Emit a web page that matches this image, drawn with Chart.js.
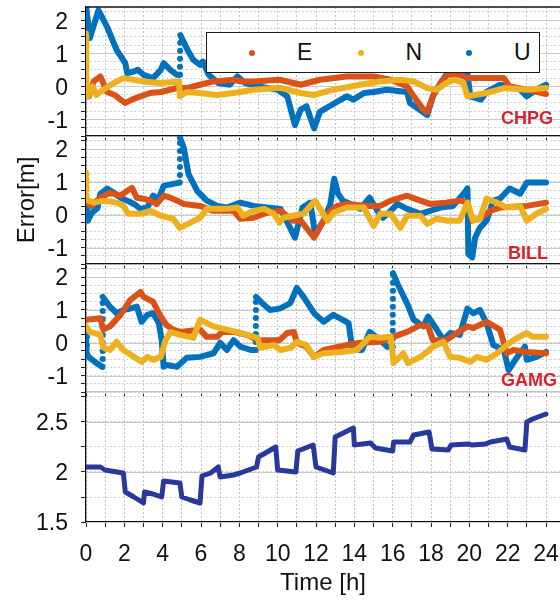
<!DOCTYPE html>
<html>
<head>
<meta charset="utf-8">
<script src="https://cdn.jsdelivr.net/npm/chart.js@4.4.1/dist/chart.umd.min.js"></script>
<style>
  body { margin: 0; background: #fff; width: 560px; height: 603px; overflow: hidden; position: relative;
         font-family: "Liberation Sans", Arial, Helvetica, sans-serif; }
  canvas { position: absolute; left: 0; }
  #legend { position: absolute; left: 206px; top: 32px; width: 334px; height: 41px; box-sizing: border-box;
            border: 1.5px solid #1a1a1a; background: #fff; }
  #legend .item { position: absolute; top: 0; height: 100%; }
  #legend .dot { position: absolute; left: -3px; top: 50%; margin-top: -3px; width: 6px; height: 6px; border-radius: 50%; }
  #legend .txt { position: absolute; left: 45px; top: 0; line-height: 38px; font-size: 23px; color: #111; }
</style>
</head>
<body>
<canvas id="p1" width="560" height="144" style="top:0px"></canvas>
<canvas id="p2" width="560" height="144" style="top:128px"></canvas>
<canvas id="p3" width="560" height="144" style="top:256px"></canvas>
<canvas id="p4" width="560" height="219" style="top:384px"></canvas>
<div id="legend"></div>
<script>
Chart.defaults.font.family = '"Liberation Sans", Arial, Helvetica, sans-serif';
Chart.defaults.color = '#111';

// axes
const X_MAX = 24.73;
const HOUR_LABELS = [0, 2, 4, 6, 8, 10, 12, 14, 16, 18, 20, 22, 24];
const ERR_MIN = -1.5, ERR_MAX = 2.4;
const ERR_LABELS = [-1, 0, 1, 2];
const LOW_MIN = 1.5, LOW_MAX = 2.8;
const LOW_LABELS = [1.5, 2, 2.5];

const COMPONENTS = ['E', 'N', 'U'];
const COMPONENT_COLORS = ['#d95319', '#edb120', '#0072bd'];
const COMPONENT_ORDER = [2, 1, 3];   // U underneath, N on top
const STATIONS = ['CHPG', 'BILL', 'GAMG'];

// [hour, error m]
const chpgE = [[0,0],[0.15,-0.3],[0.4,0.15],[0.75,0.3],[0.9,0.1],[1.1,-0.17],[1.5,-0.26],[1.8,-0.4],[2.05,-0.5],
  [2.4,-0.4],[2.85,-0.3],[3.35,-0.2],[3.9,-0.17],[4.75,-0.05],[5.25,-0.05],[5.95,0.05],[6.65,0.15],[7.7,0.2],
  [8.05,0.15],[8.75,0.15],[10.1,0.2],[11.2,0.05],[12.2,0.2],[13.6,0.3],[15,0.3],[15.9,0.2],[16.75,0],[17.1,-0.3],
  [17.6,-0.7],[17.8,-0.77],[18.1,-0.3],[18.5,0.1],[18.85,0.35],[19.5,0.35],[19.9,0.25],[20.9,0.25],[21.8,0.25],
  [22.1,0],[23,-0.1],[24,-0.23]];
const chpgN = [[0,1.6],[0.02,-0.05],[0.1,-0.3],[0.35,0],[0.55,-0.26],[0.9,-0.1],[1.45,0.1],[1.95,0.25],[2.5,0.2],
  [3,0.15],[3.9,0.1],[4.85,0.15],[4.9,-0.3],[5.25,-0.17],[5.95,-0.2],[6.85,-0.26],[7.7,-0.2],[8.75,-0.1],[10,-0.05],
  [10.2,-0.05],[11.2,-0.2],[11.9,-0.26],[12.9,-0.1],[14.3,0.05],[15.35,0.15],[16.4,0.2],[17.1,0.15],[17.8,-0.05],
  [18.3,-0.1],[18.8,0.1],[19.2,0.2],[19.7,0.1],[19.9,-0.3],[20.9,-0.2],[21.8,-0.05],[23,-0.1],[24,-0.05]];
const chpgU = [[0,2.45],[0.2,1.46],[0.65,2.3],[1.1,1.8],[1.6,1.1],[2.05,0.7],[2.15,0.4],[2.5,0.45],[2.7,0.5],[3,0.35],
  [3.5,0.25],[3.9,0.5],[4.05,0.7],[4.4,0.5],[4.75,0.35],[4.9,0.35],[4.92,1.55],[5.3,1.1],[5.6,0.8],[5.95,0.65],
  [6.1,0.75],[6.4,0.35],[6.9,0.1],[7.5,0.05],[7.9,0.3],[8.3,0.1],[9,0],[10,-0.1],[10.5,-0.3],[10.9,-1.17],[11.2,-0.7],
  [11.5,-0.6],[11.9,-1.27],[12.2,-0.77],[12.7,-0.6],[13.3,-0.4],[13.6,-0.3],[13.95,-0.4],[14.5,-0.2],[15,-0.17],
  [15.7,-0.1],[16.75,-0.17],[16.9,-0.5],[17.4,-0.7],[17.8,-0.87],[18.1,-0.3],[18.5,0.1],[18.8,0.35],[19.2,0.4],
  [19.9,0.4],[20.05,-0.3],[20.6,-0.4],[20.9,-0.17],[21.6,0.05],[22.65,-0.1],[23,-0.3],[23.5,-0.1],[24,0.05]];

const billE = [[0,0.43],[0.25,0.27],[0.75,0.52],[1.25,0.67],[1.8,0.58],[2.15,0.73],[2.4,0.82],[2.65,0.52],[3,0.49],
  [3.35,0.43],[3.7,0.33],[4.05,0.58],[4.4,0.52],[4.75,0.43],[5.1,0.33],[5.95,0.27],[6.65,0.12],[7.7,0.12],[8.05,-0.12],
  [8.75,-0.09],[9.45,0.06],[10.15,0.12],[10.8,-0.18],[11.2,-0.18],[11.9,-0.7],[12.4,-0.18],[12.75,0.12],[13.1,0.27],
  [13.6,0.33],[14.65,0.27],[15.35,0.27],[15.9,0.43],[16.75,0.58],[17.45,0.43],[17.95,0.33],[18.8,0.37],[19.5,0.43],
  [19.9,0.37],[20.15,-0.18],[20.55,-0.12],[21.1,0.12],[21.6,0.22],[23,0.27],[24,0.37]];
const billN = [[0,1.28],[0.03,0.45],[0.4,0.37],[0.9,0.43],[1.6,0.37],[1.95,0.27],[2.2,0.03],[2.85,0.03],[3.35,0.12],
  [3.9,-0.03],[4.55,-0.12],[4.9,-0.4],[5.45,-0.24],[5.95,-0.09],[6.3,0.18],[7.35,0.18],[7.9,0.22],[8.2,-0.03],
  [8.75,0.12],[9.3,0.18],[9.8,0.03],[10.1,-0.24],[10.3,-0.09],[10.8,-0.03],[11.35,0.03],[11.95,0.43],[12.6,-0.18],
  [12.9,0.06],[13.6,0.22],[14.5,0.22],[15,-0.34],[15.35,0.03],[15.9,0.03],[16.4,-0.4],[16.75,-0.03],[17.45,-0.03],
  [17.8,-0.28],[18.3,-0.12],[18.85,-0.18],[19.5,-0.18],[19.9,0.37],[20.2,-0.18],[20.55,-0.12],[20.9,0.49],
  [21.45,0.37],[21.95,0.22],[22.65,0.27],[23,-0.18],[23.5,0.03],[24,0.18]];
const billU = [[0,0.53],[0.1,-0.18],[0.3,0.06],[0.6,0.2],[0.75,0.64],[1.1,0.8],[1.45,0.67],[1.8,0.52],[2.15,0.43],
  [2.5,0.33],[2.85,0.18],[3.2,0.22],[3.5,0.58],[3.8,0.49],[4.05,0.88],[4.55,0.94],[4.88,0.98],[4.9,2.35],[5.1,2.04],
  [5.35,1.24],[5.8,0.73],[6.3,0.43],[6.85,0.27],[7.35,0.22],[8.05,0.37],[8.75,0.27],[9.45,0.22],[10.15,0.18],
  [10.65,-0.4],[10.9,-0.7],[11.3,0.22],[11.7,0.37],[11.95,-0.58],[12.4,-0.18],[12.75,0.33],[12.95,1.1],[13.15,0.64],
  [13.4,0.43],[13.8,0.33],[14.3,0.18],[14.8,0.52],[15.2,0.12],[15.5,-0.09],[15.9,0.12],[16.25,0.33],[16.75,0.18],
  [17.45,0.03],[17.95,0.12],[18.5,0.22],[19.15,0.27],[19.7,0.64],[19.9,0.8],[19.95,-1.2],[20.15,-1.3],[20.3,-0.7],
  [20.55,-0.4],[20.9,-0.18],[21.25,0.43],[21.6,0.49],[22.1,0.8],[22.65,0.64],[23,0.98],[24,0.98]];

const gamgE = [[0,0.7],[0.75,0.75],[0.9,0.4],[1.25,0.5],[1.8,0.85],[2.3,1.3],[2.85,1.55],[3,1.4],[3.5,1.25],[3.9,0.8],
  [4.2,0.54],[4.55,0.4],[4.9,0.33],[5.95,0.4],[6.3,0.18],[6.85,0.18],[7.1,0.33],[7.7,0.33],[8.4,0.24],[8.95,0.08],
  [10.1,0.08],[10.5,0.3],[10.85,0.33],[11,0],[11.5,-0.12],[11.9,-0.43],[12.4,-0.22],[13.6,-0.07],[14.3,0],[15.35,0.03],
  [15.9,0.15],[16.75,0.33],[17.45,0.54],[17.85,0.5],[18.1,0.08],[18.8,0.08],[19.2,0.24],[19.9,0.5],[20.2,0.45],
  [20.9,0.64],[21.6,0.4],[21.95,-0.32],[22.3,-0.22],[23,-0.28],[24,-0.32]];
const gamgN = [[0,0.5],[0.2,0.33],[0.75,0.24],[0.9,-0.15],[1.25,-0.22],[1.6,0.03],[1.95,-0.22],[2.5,-0.43],[2.9,-0.58],
  [3.2,-0.43],[3.5,-0.52],[3.9,-0.43],[4.15,0.08],[4.4,0.33],[4.9,0.24],[5.6,0.15],[5.95,0.7],[6.65,0.5],[7.35,0.4],
  [8.05,0.3],[8.95,0.15],[9.1,-0.15],[9.8,-0.07],[10.15,-0.22],[10.7,-0.15],[11,0.03],[11.5,-0.07],[11.9,-0.43],
  [12.4,-0.32],[13.3,-0.28],[14.15,-0.22],[14.8,0.18],[15.35,0.15],[15.9,0.18],[16.05,-0.62],[16.55,-0.32],
  [16.8,-0.62],[17.45,-0.43],[17.8,-0.28],[18.1,-0.12],[18.65,0.03],[19,-0.43],[19.5,-0.46],[20.05,-0.58],
  [20.4,-0.43],[20.9,-0.52],[21.45,-0.32],[21.95,-0.07],[22.3,0.08],[23,0.3],[23.3,0.18],[24,0.18]];
const gamgU = [[0,0.3],[0.05,-0.37],[0.2,-0.46],[0.55,-0.62],[0.85,-0.73],[0.87,1.4],[1.25,1.1],[1.6,0.9],[1.95,1],
  [2.3,1.04],[2.65,1.1],[2.9,0.64],[3.2,0.85],[3.5,0.9],[3.8,0.6],[3.95,0.08],[4.05,-0.73],[4.2,-0.68],[4.75,-0.73],
  [5.25,-0.46],[5.95,-0.43],[6.65,-0.32],[7,0],[7.35,-0.22],[7.7,0.08],[8.05,-0.12],[8.6,-0.22],[8.85,-0.22],
  [8.87,1.4],[9.3,1.15],[9.6,1],[10.1,1.04],[10.65,1.2],[11,1.67],[11.35,1.4],[11.9,0.9],[12.4,0.64],[12.9,0.85],
  [13.4,0.7],[13.7,0.6],[13.9,-0.22],[14.4,-0.22],[14.8,0.33],[15.35,0.08],[15.7,-0.12],[16,-0.12],[16.02,2.12],
  [16.25,1.8],[16.75,1.2],[17.1,0.7],[17.6,0.5],[17.85,0.8],[18.3,0.4],[18.65,0.08],[19,0.3],[19.5,0.24],[19.9,1.04],
  [20.2,0.9],[20.55,1],[20.9,0.6],[21.25,-0.07],[21.8,-0.22],[22.05,-0.83],[22.5,-0.43],[22.9,-0.12],[23,-0.52],
  [23.5,-0.43],[24,-0.28]];

// bottom panel trace [hour, m]
const lowTrace = [[0,2.05],[0.75,2.05],[1,2.02],[1.3,2.01],[1.95,1.99],[2.05,1.8],[2.5,1.75],[3,1.69],[3.05,1.8],
  [3.5,1.78],[3.95,1.75],[4.05,1.91],[4.9,1.89],[5,1.75],[5.45,1.72],[5.95,1.69],[6.05,1.96],[6.5,1.99],[6.9,2.05],
  [7,1.95],[7.7,1.97],[8.05,1.99],[8.9,2.05],[9,2.15],[9.9,2.25],[10,2.02],[10.95,2],[11.05,2.21],[11.85,2.27],
  [12,2.05],[12.9,1.99],[13,2.35],[13.95,2.44],[14,2.27],[14.85,2.29],[15.1,2.24],[16,2.21],[16.05,2.3],[16.9,2.3],
  [17.1,2.37],[17.9,2.4],[18.05,2.23],[18.9,2.22],[19.05,2.27],[19.9,2.28],[20.15,2.27],[20.85,2.28],[21.1,2.3],
  [21.95,2.33],[22.1,2.25],[22.9,2.22],[23,2.5],[23.3,2.53],[24,2.58]];


// near-vertical jumps are drawn as a string of dots
const jumpDash = c => {
  const dx = c.p1.parsed.x - c.p0.parsed.x;
  const dy = Math.abs(c.p1.parsed.y - c.p0.parsed.y);
  return dx <= 0.05 && dy >= 0.6 ? [0, 8] : undefined;
};

function lineSet(label, data, color, order, dotted, width) {
  return {
    label: label, data: data, order: order,
    borderColor: color, backgroundColor: color,
    borderWidth: width, pointRadius: 0, tension: 0,
    borderJoinStyle: 'round', borderCapStyle: 'round',
    segment: dotted ? { borderDash: jumpDash } : {}
  };
}


const majorGrid = {
  id: 'majorGrid',
  beforeDatasetsDraw(chart, args, opts) {
    const { ctx, chartArea: a, scales: { y } } = chart;
    ctx.save();
    ctx.strokeStyle = '#c9c9c9';
    ctx.lineWidth = 1;
    for (const v of opts.values) {
      const py = Math.round(y.getPixelForValue(v)) + 0.5;
      ctx.beginPath();
      ctx.moveTo(a.left, py);
      ctx.lineTo(a.right, py);
      ctx.stroke();
    }
    ctx.restore();
  }
};

const panelMarks = {
  id: 'panelMarks',
  afterDraw(chart, args, opts) {
    const { ctx, chartArea: a } = chart;
    ctx.save();
    if (opts.topLine) {
      ctx.strokeStyle = '#111';
      ctx.lineWidth = 1.3;
      ctx.beginPath();
      ctx.moveTo(a.left, a.top);
      ctx.lineTo(a.right, a.top);
      ctx.stroke();
    }
    if (opts.text) {
      ctx.font = 'bold 18px "Liberation Sans", Arial, sans-serif';
      ctx.fillStyle = '#d8232f';
      ctx.textAlign = 'right';
      ctx.textBaseline = 'middle';
      ctx.fillText(opts.text, a.right - opts.right, a.bottom - opts.bottom);
    }
    ctx.restore();
  }
};


function xAxis(bottomPanel, borderColor) {
  return {
    type: 'linear', min: 0, max: X_MAX,
    afterBuildTicks: s => {
      const t = [];
      for (let h = 0; h <= 24; h++) t.push({ value: h });
      s.ticks = t;
    },
    afterFit: s => {
      s.paddingLeft = 0;
      s.paddingRight = 0;
      s.height = bottomPanel ? 81 : 0;
    },
    grid: { color: '#c4c4c4', drawTicks: bottomPanel, tickLength: 5, tickColor: '#222', tickWidth: 1 },
    border: { color: borderColor, width: 1.3, dash: [2, 2] },
    ticks: {
      display: bottomPanel, autoSkip: false, maxRotation: 0, padding: 14,
      font: { size: 23 }, color: '#111',
      callback: v => HOUR_LABELS.includes(v) ? String(v) : ''
    },
    title: {
      display: bottomPanel, text: 'Time [h]', font: { size: 24 }, color: '#111',
      padding: { top: 0, bottom: 5 }
    }
  };
}

function yAxis(min, max, labels, title) {
  return {
    min: min, max: max,
    afterBuildTicks: s => {
      const t = [];
      for (let v = Math.ceil(min * 4) / 4; v <= max + 1e-9; v += 0.25) t.push({ value: Math.round(v * 100) / 100 });
      s.ticks = t;
    },
    afterFit: s => {
      s.width = 86;
      s.paddingTop = 0;
      s.paddingBottom = 0;
    },
    grid: { color: '#cfcfcf', tickLength: 5, tickColor: '#222', tickWidth: 1 },
    border: { color: '#111', width: 1.3, dash: [2, 2] },
    ticks: {
      autoSkip: false, padding: 13, labelOffset: 2, font: { size: 23 }, color: '#111',
      callback: v => labels.includes(v) ? String(v) : ''
    },
    title: {
      display: !!title, text: title || '', font: { size: 24 }, color: '#111',
      padding: { top: 13, bottom: 0 }
    }
  };
}

function makePanel(id, datasets, y, opts) {
  return new Chart(document.getElementById(id), {
    type: 'line',
    data: { datasets: datasets },
    options: {
      responsive: false,
      animation: false,
      devicePixelRatio: 1,
      layout: { padding: { top: opts.padTop, bottom: opts.padBottom, left: 0, right: 0 } },
      scales: { x: xAxis(opts.bottom, opts.borderColor), y: y },
      plugins: {
        legend: { display: false },
        tooltip: { enabled: false },
        majorGrid: { values: opts.majors },
        panelMarks: { topLine: opts.topLine, text: opts.text, right: opts.textRight, bottom: opts.textBottom }
      }
    },
    plugins: [majorGrid, panelMarks]
  });
}

function stationSets(e, n, u) {
  return [e, n, u].map((d, i) => lineSet(COMPONENTS[i], d, COMPONENT_COLORS[i], COMPONENT_ORDER[i], true, 6));
}

makePanel('p1', stationSets(chpgE, chpgN, chpgU), yAxis(ERR_MIN, ERR_MAX, ERR_LABELS), {
  padTop: 7, padBottom: 8, borderColor: '#111', topLine: true, majors: ERR_LABELS,
  text: STATIONS[0], textRight: 7, textBottom: 17
});
makePanel('p2', stationSets(billE, billN, billU), yAxis(ERR_MIN, ERR_MAX, ERR_LABELS, 'Error[m]'), {
  padTop: 8, padBottom: 8, borderColor: '#111', majors: ERR_LABELS,
  text: STATIONS[1], textRight: 12, textBottom: 10
});
makePanel('p3', stationSets(gamgE, gamgN, gamgU), yAxis(ERR_MIN, ERR_MAX, ERR_LABELS), {
  padTop: 8, padBottom: 8, borderColor: '#c4c4c4', majors: ERR_LABELS,
  text: STATIONS[2], textRight: 3, textBottom: 11
});
makePanel('p4', [lineSet('trace', lowTrace, '#27399a', 1, false, 5)], yAxis(LOW_MIN, LOW_MAX, LOW_LABELS), {
  padTop: 8, padBottom: 0, borderColor: '#111', bottom: true, majors: LOW_LABELS
});

// legend box over the top panel
const legendBox = document.getElementById('legend');
COMPONENTS.forEach((name, i) => {
  const item = document.createElement('div');
  item.className = 'item';
  item.style.left = (45 + i * 108.5) + 'px';
  item.innerHTML = '<span class="dot" style="background:' + COMPONENT_COLORS[i] + '"></span><span class="txt">' + name + '</span>';
  legendBox.appendChild(item);
});
</script>
</body>
</html>
